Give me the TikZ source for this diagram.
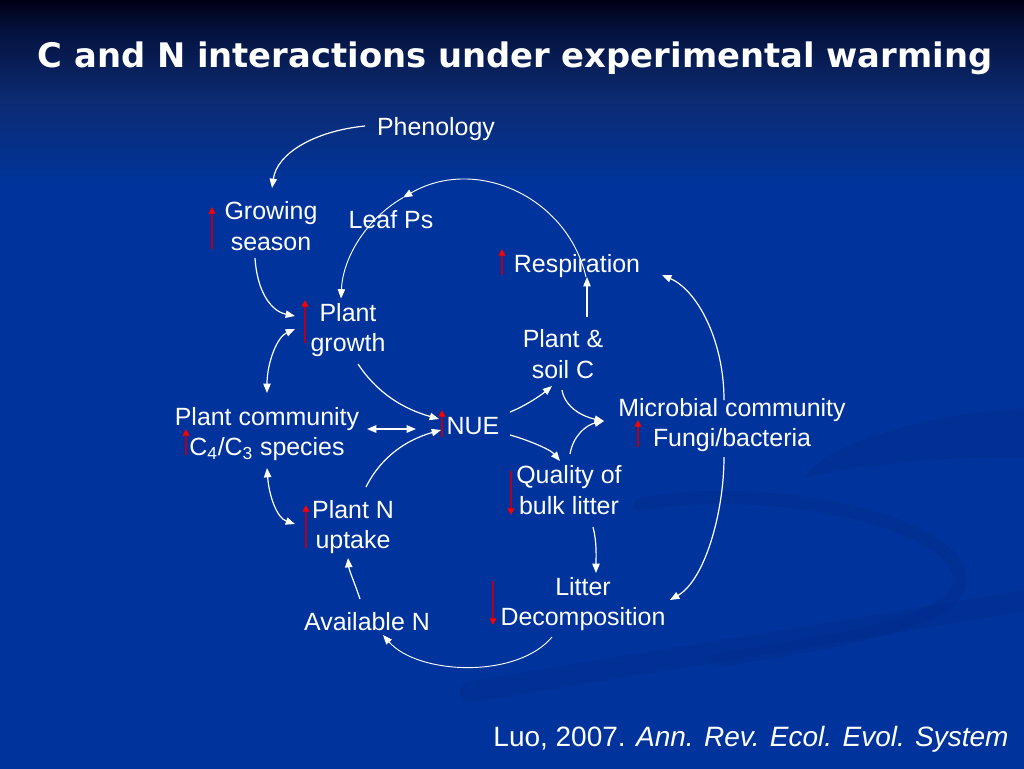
\documentclass[tikz,border=0pt]{standalone}
\usepackage{fontspec}
\setmainfont{Liberation Sans}
\newfontfamily\titlefont{DejaVu Sans}
\usetikzlibrary{arrows.meta}

\definecolor{bgtop}{HTML}{000014}
\definecolor{bgdark}{HTML}{04123F}
\definecolor{bgmid}{HTML}{0C2B72}
\definecolor{bgbase}{HTML}{00349C}
\definecolor{bgdeep}{HTML}{002A86}
\definecolor{warmred}{HTML}{FF0000}
\definecolor{darkred}{HTML}{B0001E}

% path box runs from 25bp (bottom) to 75bp (top)
\pgfdeclareverticalshading{slidebg}{100bp}{color(0bp)=(bgbase); color(63bp)=(bgbase);
  color(68.5bp)=(bgmid); color(73bp)=(bgdark); color(75bp)=(bgtop); color(100bp)=(bgtop)}

\tikzset{
  lbl/.style={text=white, align=center, inner sep=0pt, font=\fontsize{18.7}{22.8}\selectfont},
  link/.style={white, line width=0.9pt, -{Triangle[length=7pt,width=5.5pt]}},
  both/.style={link, {Triangle[length=7pt,width=5.5pt]}-{Triangle[length=7pt,width=5.5pt]}},
  incr/.style={draw=darkred, line width=1.5pt, -{Triangle[length=5pt,width=5pt,color=warmred]}},
  swoosh/.style={bgdeep, opacity=0.35, line cap=round}
}

\begin{document}
\begin{tikzpicture}[x=0.75pt, y=-0.75pt]
  % slide background
  \shade[shading=slidebg] (0,0) rectangle (1024,768);
  \useasboundingbox (0,0) rectangle (1024,768);
  \begin{scope}
    \clip (0,0) rectangle (1024,768);
    \fill[swoosh] (1030,408) .. controls (930,412) and (820,445) .. (805,478)
      .. controls (830,470) and (930,455) .. (1030,458) -- cycle;
    \draw[swoosh, line width=10pt] (640,505) .. controls (760,480) and (960,520) .. (960,580)
      .. controls (960,620) and (850,640) .. (720,660);
    \draw[swoosh, line width=16pt] (470,692) .. controls (650,662) and (850,630) .. (1040,598);
  \end{scope}

  % title and reference
  \node[anchor=base, text=white] (title) at (515,67)
    {\resizebox{716pt}{!}{\titlefont\bfseries C and N interactions under experimental warming}};
  \node[anchor=base, text=white, inner sep=0pt, font=\fontsize{21}{25}\selectfont] (ref) at (751,746)
    {Luo, 2007. \textit{Ann. Rev. Ecol. Evol. System}};

  % labels
  \node[lbl, anchor=base] (phen) at (436,135) {Phenology};
  \node[lbl] (grow) at (271,226) {Growing\\season};
  \node[lbl, anchor=base] (leaf) at (391,228) {Leaf Ps};
  \node[lbl, anchor=base] (resp) at (577,272) {Respiration};
  \node[lbl] (pgrow) at (348,330) {Plant\\growth};
  \node[lbl] (psoil) at (563,354) {Plant \&\\soil C};
  \node[lbl] (pcomm) at (267,434) {Plant community\\C\textsubscript{4}/C\textsubscript{3} species};
  \node[lbl, anchor=base] (nue) at (473,434) {NUE};
  \node[lbl] (micro) at (732,425) {Microbial community\\Fungi/bacteria};
  \node[lbl] (qual) at (569,490) {Quality of\\bulk litter};
  \node[lbl] (pnup) at (353,527) {Plant N\\uptake};
  \node[lbl] (litter) at (583,604) {Litter\\Decomposition};
  \node[lbl, anchor=base] (avn) at (367,630) {Available N};
  \coordinate (leafarc) at (403,197.6);

  % warming responses
  \draw[incr] (212,249) -- (212,207);
  \draw[incr] (305,343) -- (305,300);
  \draw[incr] (502,275) -- (502,249);
  \draw[incr] (442,437) -- (442,410);
  \draw[incr] (186,455) -- (186,429);
  \draw[incr] (638,447) -- (638,420);
  \draw[incr] (306,548) -- (306,505);
  \draw[incr] (511,471) -- (511,515);
  \draw[incr] (493,581) -- (493,625);

  % links
  \draw[link] ([shift={(-71,-9)}]phen.base) .. controls +(-50,5) and +(5,-35) .. ([shift={(1,-38)}]grow.center);
  \draw[link, line width=0.7pt] ([shift={(9,5)}]resp.base) .. controls +(-19,-81) and +(72,-42) .. (leafarc);
  \draw[link, line width=0.7pt] (leafarc) .. controls +(-36,21) and +(2,-42) .. ([shift={(-7,-31.5)}]pgrow.center);
  \draw[link] ([shift={(-16,32)}]grow.center) .. controls +(2,32) and +(-25,-5) .. ([shift={(-53,-14)}]pgrow.center);
  \draw[both] ([shift={(0,-41)}]pcomm.center) .. controls +(0,-30) and +(-18,8) .. ([shift={(-53,-1)}]pgrow.center);
  \draw[link] ([shift={(10,34)}]pgrow.center) .. controls +(20,30) and +(-35,-10) .. ([shift={(-34,-15)}]nue.base);
  \draw[both, line width=1.3pt] ([shift={(100,-5)}]pcomm.center) -- ([shift={(-57,-5)}]nue.base);
  \draw[link] ([shift={(13,-40)}]pnup.center) .. controls +(15,-30) and +(-35,10) .. ([shift={(-32,-4)}]nue.base);
  \draw[both] ([shift={(0,34)}]pcomm.center) .. controls +(2,28) and +(-18,-6) .. ([shift={(-58,-3)}]pnup.center);
  \draw[link] ([shift={(-7,-31)}]avn.base) .. controls +(-5,-15) and +(1,12) .. ([shift={(-5,31)}]pnup.center);
  \draw[link, line width=0.7pt] ([shift={(-31,33)}]litter.center) .. controls +(-35,42) and +(35,40) .. ([shift={(16,5)}]avn.base);
  \draw[link] ([shift={(37,-22)}]nue.base) .. controls +(15,-6) and +(-12,10) .. ([shift={(-11,32)}]psoil.center);
  \draw[link] ([shift={(37,1)}]nue.base) .. controls +(15,4) and +(-10,-12) .. ([shift={(-9,-29)}]qual.center);
  \draw[link] ([shift={(-1,36)}]psoil.center) .. controls +(3,18) and +(-20,-4) .. ([shift={(-128,-4)}]micro.center);
  \draw[link] ([shift={(1,-36)}]qual.center) .. controls +(3,-18) and +(-18,4) .. ([shift={(-128,-4)}]micro.center);
  \draw[link] ([shift={(24,-37)}]psoil.center) -- ([shift={(10,5)}]resp.base);
  \draw[link] ([shift={(-8,-25)}]micro.center) .. controls +(0,-60) and +(35,15) .. ([shift={(85,3)}]resp.base);
  \draw[link] ([shift={(-8,32)}]micro.center) .. controls +(0,55) and +(35,-20) .. ([shift={(87,-4)}]litter.center);
  \draw[link] ([shift={(24,37)}]qual.center) .. controls +(4,15) and +(0,-15) .. ([shift={(13,-31)}]litter.center);
\end{tikzpicture}
\end{document}
